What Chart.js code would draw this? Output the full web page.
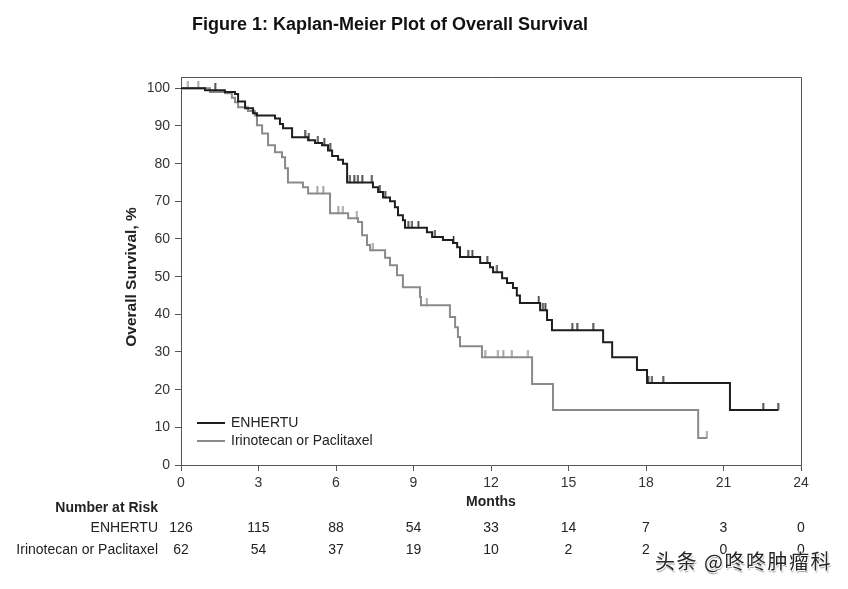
<!DOCTYPE html>
<html>
<head>
<meta charset="utf-8">
<script src="https://cdn.jsdelivr.net/npm/chart.js@4.4.0/dist/chart.umd.min.js"></script>
<style>
  body { margin: 0; background: #fff; }
  #wrap { position: relative; width: 848px; height: 589px; }
  #mark {
    position: absolute; left: 655px; top: 546px;
    font: 20px "Noto Sans CJK SC", sans-serif; color: #262626;
    letter-spacing: 1.5px;
    text-shadow: 1px 1px 0 #fff, -1px -1px 0 #fff, 1px 2px 1px #999;
  }
</style>
</head>
<body>
<div id="wrap">
  <canvas id="km" width="848" height="589"></canvas>
  <div id="mark">头条 @咚咚肿瘤科</div>
</div>
<script>
// KM steps (month, survival % after the drop)
const enhertuTime = [0, 0.93, 1.70, 2.09, 2.21, 2.48, 2.79, 2.94, 3.64, 3.83, 3.95, 4.30, 4.92, 5.19, 5.46, 5.69, 5.85, 6.08, 6.27, 6.43, 7.43, 7.63, 7.82, 8.09, 8.28, 8.40, 8.59, 8.67, 9.52, 9.72, 10.14, 10.53, 10.69, 10.80, 11.58, 11.96, 12.08, 12.43, 12.62, 12.85, 13.00, 13.12, 13.90, 14.17, 14.36, 16.34, 16.69, 17.65, 18.04, 21.25, 23.11];
const enhertuSurv = [100, 99.5, 99, 98.5, 96.5, 94.7, 93.4, 92.8, 92, 90.5, 89.4, 87, 86.2, 85.5, 84.9, 83.5, 82, 81, 80, 75, 73.7, 72.5, 71, 70, 68.4, 66.3, 65, 63, 61.8, 60.5, 59.7, 58.9, 57.8, 55.2, 53.6, 52.5, 51.2, 49.6, 48.3, 47, 45, 43, 41.1, 38.5, 35.8, 32.6, 28.6, 25.2, 21.8, 14.6, 14.6];
const enhertuCensor = [1.32, 4.80, 4.95, 5.30, 5.54, 5.77, 6.54, 6.70, 6.85, 7.01, 7.39, 7.70, 7.90, 8.79, 8.94, 9.18, 9.83, 10.55, 11.11, 11.27, 11.85, 12.23, 13.85, 14.01, 14.10, 15.14, 15.33, 15.95, 18.08, 18.23, 18.66, 22.53, 23.11];

const chemoTime = [0, 1.12, 1.70, 1.97, 2.09, 2.21, 2.59, 2.86, 2.94, 3.14, 3.37, 3.64, 3.91, 4.03, 4.14, 4.72, 4.92, 5.77, 6.47, 6.85, 7.01, 7.20, 7.32, 7.90, 8.09, 8.36, 8.59, 9.25, 9.29, 10.41, 10.61, 10.72, 10.80, 11.65, 13.59, 14.40, 20.02, 20.36];
const chemoSurv = [100, 99, 98.7, 97.5, 96.3, 95, 94, 92.8, 90.2, 88, 84.9, 83, 81.7, 78.8, 75, 73.7, 72.1, 66.8, 65.5, 64.5, 61, 58.4, 57, 55, 53, 50.4, 47.2, 44.6, 42.4, 39.3, 36.6, 34, 31.5, 28.6, 21.5, 14.6, 7.2, 7.2];
const chemoCensor = [0.27, 0.66, 5.27, 5.50, 6.08, 6.27, 6.81, 7.43, 9.52, 11.77, 12.27, 12.47, 12.81, 13.43, 20.36];

// y ticks and number at risk
const yTicks = [0, 10, 20, 30, 40, 50, 60, 70, 80, 90, 100];
const riskMonths = [0, 3, 6, 9, 12, 15, 18, 21, 24];
const enhertuRisk = [126, 115, 88, 54, 33, 14, 7, 3, 0];
const chemoRisk = [62, 54, 37, 19, 10, 2, 2, 0, 0];

const armNames = ["ENHERTU", "Irinotecan or Paclitaxel"];
const black = "#1e1e1e", grey = "#8a8a8a", axisCol = "#555";

function survAt(times, surv, t) {
  let v = surv[0];
  for (let i = 0; i < times.length; i++) if (times[i] <= t) v = surv[i];
  return v;
}

// small tick sitting on top of the line for censored patients
function censorMark(color) {
  const c = document.createElement("canvas");
  c.width = 3; c.height = 14;
  const g = c.getContext("2d");
  g.fillStyle = color;
  g.fillRect(0.8, 0, 1.5, 7.5);
  return c;
}

const pts = (t, s) => t.map((x, i) => ({ x: x, y: s[i] }));
const cens = (c, t, s) => c.map(x => ({ x: x, y: survAt(t, s, x) }));

const font = "Liberation Sans, Arial, sans-serif";

const decor = {
  id: "decor",
  afterDraw(chart) {
    const ctx = chart.ctx, a = chart.chartArea, xs = chart.scales.x;
    ctx.save();
    // frame top / right
    ctx.strokeStyle = axisCol; ctx.lineWidth = 1;
    ctx.beginPath();
    ctx.moveTo(a.left, a.top + 0.5); ctx.lineTo(a.right + 0.5, a.top + 0.5);
    ctx.lineTo(a.right + 0.5, a.bottom);
    ctx.stroke();

    // title
    ctx.fillStyle = "#111";
    ctx.font = "bold 18px " + font;
    ctx.textAlign = "center"; ctx.textBaseline = "middle";
    ctx.fillText("Figure 1: Kaplan-Meier Plot of Overall Survival", 390, 25);

    // axis titles
    ctx.fillStyle = "#222";
    ctx.font = "bold 14px " + font;
    ctx.fillText("Months", (a.left + a.right) / 2, 502);
    ctx.save();
    ctx.translate(132, 277);
    ctx.rotate(-Math.PI / 2);
    ctx.font = "bold 15.5px " + font;
    ctx.fillText("Overall Survival, %", 0, 0);
    ctx.restore();

    // legend
    ctx.lineWidth = 2;
    [black, grey].forEach((col, i) => {
      const y = a.bottom - 42 + i * 18;
      ctx.strokeStyle = col;
      ctx.beginPath(); ctx.moveTo(a.left + 16, y); ctx.lineTo(a.left + 44, y); ctx.stroke();
      ctx.fillStyle = "#222"; ctx.font = "14px " + font; ctx.textAlign = "left";
      ctx.fillText(armNames[i], a.left + 50, y);
    });

    // number at risk table
    ctx.fillStyle = "#222";
    ctx.textAlign = "right";
    ctx.font = "bold 14px " + font;
    ctx.fillText("Number at Risk", 158, 508);
    ctx.font = "14px " + font;
    [enhertuRisk, chemoRisk].forEach((row, i) => {
      const y = 528 + i * 22;
      ctx.textAlign = "right";
      ctx.fillText(armNames[i], 158, y);
      ctx.textAlign = "center";
      row.forEach((n, j) => ctx.fillText(String(n), xs.getPixelForValue(riskMonths[j]), y));
    });
    ctx.restore();
  }
};

new Chart(document.getElementById("km"), {
  data: {
    datasets: [
      { type: "line", data: pts(enhertuTime, enhertuSurv), stepped: true, borderColor: black, borderWidth: 2, pointRadius: 0, fill: false },
      { type: "line", data: pts(chemoTime, chemoSurv), stepped: true, borderColor: grey, borderWidth: 2, pointRadius: 0, fill: false },
      { type: "scatter", data: cens(enhertuCensor, enhertuTime, enhertuSurv), pointStyle: censorMark(black), pointRadius: 4 },
      { type: "scatter", data: cens(chemoCensor, chemoTime, chemoSurv), pointStyle: censorMark(grey), pointRadius: 4 }
    ]
  },
  options: {
    responsive: false,
    animation: false,
    layout: { padding: { top: 77, right: 47, left: 0, bottom: 0 } },
    plugins: { legend: { display: false }, tooltip: { enabled: false } },
    scales: {
      x: {
        type: "linear", min: 0, max: 24,
        afterFit: s => { s.height = 124; },
        ticks: { stepSize: 3, padding: 4, color: "#333", font: { family: font, size: 14 } },
        grid: { drawOnChartArea: false, tickLength: 6, color: axisCol },
        border: { color: axisCol }
      },
      y: {
        min: 0, max: 103,
        afterFit: s => { s.width = 181; },
        afterBuildTicks: s => { s.ticks = yTicks.map(v => ({ value: v })); },
        ticks: { padding: 5, color: "#333", font: { family: font, size: 14 } },
        grid: { drawOnChartArea: false, tickLength: 6, color: axisCol },
        border: { color: axisCol }
      }
    }
  },
  plugins: [decor]
});
</script>
</body>
</html>
